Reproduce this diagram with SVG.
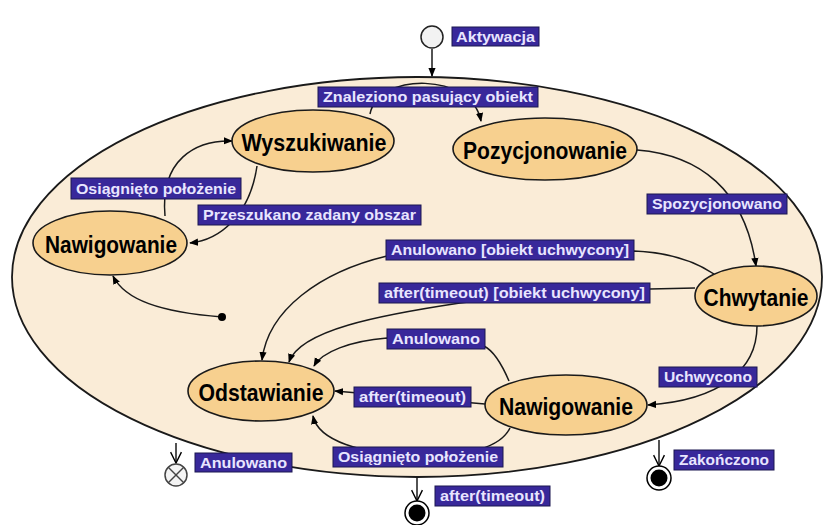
<svg xmlns="http://www.w3.org/2000/svg" width="824" height="525" viewBox="0 0 824 525">
<defs>
<style>
.lbl rect{fill:#38289a;stroke:#1b1650;stroke-width:1}
.lbl text{fill:#e8e5ff;font-family:"Liberation Sans",Arial,sans-serif;font-weight:bold;font-size:15px;text-anchor:middle}
.node ellipse{fill:#f7d08f;stroke:#1a1a1a;stroke-width:1.6}
.node text{fill:#000;font-family:"Liberation Sans",Arial,sans-serif;font-weight:bold;font-size:24px;text-anchor:middle}
.cn path,.cn line{fill:none;stroke:#1a1a1a;stroke-width:1.5}
</style>
<marker id="fa" viewBox="0 0 10 10" refX="9" refY="5" markerWidth="9" markerHeight="9" orient="auto" markerUnits="userSpaceOnUse"><path d="M0,1 L10,5 L0,9 z" fill="#000"/></marker>
<marker id="va" viewBox="0 0 12 12" refX="11" refY="6" markerWidth="13" markerHeight="13" orient="auto" markerUnits="userSpaceOnUse"><path d="M1,1 L11,6 L1,11" fill="none" stroke="#000" stroke-width="1.3"/></marker>
</defs>
<rect width="824" height="525" fill="#ffffff"/>
<g id="composite">
<ellipse cx="417" cy="277" rx="405" ry="200" fill="#faecd7" stroke="#1a1a1a" stroke-width="1.8"/>
</g>
<g id="connectors" class="cn">
<line x1="432" y1="49" x2="432" y2="76" marker-end="url(#fa)"/>
<path d="M370 114 C378 72 472 72 481 121" marker-end="url(#fa)"/>
<path d="M257 166 C250 215 220 240 190 243" marker-end="url(#fa)"/>
<path d="M165 216 C160 160 195 140 232 141" marker-end="url(#fa)"/>
<path d="M637 150 C700 155 745 190 756 266" marker-end="url(#fa)"/>
<path d="M714 274 C690 258 660 252 634 251 L387 256 C320 272 268 310 262 360" marker-end="url(#fa)"/>
<path d="M695 288 L650 289 C560 292 500 298 460 303 C380 315 300 330 289 362" marker-end="url(#fa)"/>
<path d="M509 381 C500 360 492 350 484 346 L387 338 C350 341 322 352 314 366" marker-end="url(#fa)"/>
<line x1="485" y1="404" x2="335" y2="391" marker-end="url(#fa)"/>
<path d="M510 428 C500 448 470 455 420 455 C360 455 318 440 313 416" marker-end="url(#fa)"/>
<path d="M757 326 C757 370 720 400 648 405" marker-end="url(#fa)"/>
<path d="M222 317 C160 312 125 300 113 276" marker-end="url(#fa)"/>
<circle cx="222" cy="317" r="4" fill="#000" stroke="none"/>
<line x1="176" y1="443" x2="176" y2="463" marker-end="url(#va)"/>
<line x1="417" y1="477" x2="417" y2="501" marker-end="url(#va)"/>
<line x1="659" y1="440" x2="659" y2="466" marker-end="url(#va)"/>
</g>
<g id="initial"><circle cx="432" cy="37" r="11" fill="#f2f2f2" stroke="#222" stroke-width="1.5"/></g>
<g id="n_wyszukiwanie" class="node"><ellipse cx="313" cy="141" rx="81" ry="31"/><text x="314" y="151" textLength="145" lengthAdjust="spacingAndGlyphs">Wyszukiwanie</text></g>
<g id="n_pozycjonowanie" class="node"><ellipse cx="545" cy="149" rx="92" ry="31"/><text x="545" y="159" textLength="164" lengthAdjust="spacingAndGlyphs">Pozycjonowanie</text></g>
<g id="n_nawigowanie1" class="node"><ellipse cx="110" cy="243" rx="77" ry="32"/><text x="111" y="253" textLength="132" lengthAdjust="spacingAndGlyphs">Nawigowanie</text></g>
<g id="n_chwytanie" class="node"><ellipse cx="756" cy="296" rx="61" ry="30"/><text x="756" y="306" textLength="105" lengthAdjust="spacingAndGlyphs">Chwytanie</text></g>
<g id="n_odstawianie" class="node"><ellipse cx="261" cy="391" rx="73" ry="30"/><text x="261" y="401" textLength="125" lengthAdjust="spacingAndGlyphs">Odstawianie</text></g>
<g id="n_nawigowanie2" class="node"><ellipse cx="566" cy="405" rx="81" ry="30"/><text x="566" y="415" textLength="134" lengthAdjust="spacingAndGlyphs">Nawigowanie</text></g>
<g id="f_anulowano"><circle cx="176" cy="475" r="11" fill="#f4f4f4" stroke="#444" stroke-width="1.5"/><line x1="168" y1="467" x2="184" y2="483" stroke="#444" stroke-width="1.5"/><line x1="184" y1="467" x2="168" y2="483" stroke="#444" stroke-width="1.5"/></g>
<g id="f_timeout"><circle cx="417" cy="513" r="12" fill="#fff" stroke="#000" stroke-width="1.5"/><circle cx="417" cy="513" r="8.5" fill="#000"/></g>
<g id="f_zakonczono"><circle cx="659" cy="478" r="12" fill="#fff" stroke="#000" stroke-width="1.5"/><circle cx="659" cy="478" r="8.5" fill="#000"/></g>
<g id="labels">
<g class="lbl"><rect x="452" y="27" width="87" height="19"/><text x="495.5" y="42" textLength="79" lengthAdjust="spacingAndGlyphs">Aktywacja</text></g>
<g class="lbl"><rect x="318" y="87" width="220" height="20"/><text x="428" y="102" textLength="210" lengthAdjust="spacingAndGlyphs">Znaleziono pasujący obiekt</text></g>
<g class="lbl"><rect x="71" y="178" width="170" height="21"/><text x="156" y="194" textLength="160" lengthAdjust="spacingAndGlyphs">Osiągnięto położenie</text></g>
<g class="lbl"><rect x="198" y="205" width="223" height="20"/><text x="309.5" y="220" textLength="213" lengthAdjust="spacingAndGlyphs">Przeszukano zadany obszar</text></g>
<g class="lbl"><rect x="647" y="194" width="140" height="20"/><text x="717" y="209" textLength="130" lengthAdjust="spacingAndGlyphs">Spozycjonowano</text></g>
<g class="lbl"><rect x="386" y="240" width="248" height="20"/><text x="510" y="255" textLength="238" lengthAdjust="spacingAndGlyphs">Anulowano [obiekt uchwycony]</text></g>
<g class="lbl"><rect x="379" y="283" width="271" height="20"/><text x="514.5" y="298" textLength="261" lengthAdjust="spacingAndGlyphs">after(timeout) [obiekt uchwycony]</text></g>
<g class="lbl"><rect x="387" y="329" width="98" height="20"/><text x="436" y="344" textLength="88" lengthAdjust="spacingAndGlyphs">Anulowano</text></g>
<g class="lbl"><rect x="354" y="387" width="117" height="20"/><text x="412.5" y="402" textLength="107" lengthAdjust="spacingAndGlyphs">after(timeout)</text></g>
<g class="lbl"><rect x="659" y="367" width="98" height="20"/><text x="708" y="382" textLength="88" lengthAdjust="spacingAndGlyphs">Uchwycono</text></g>
<g class="lbl"><rect x="333" y="447" width="170" height="20"/><text x="418" y="462" textLength="160" lengthAdjust="spacingAndGlyphs">Osiągnięto położenie</text></g>
<g class="lbl"><rect x="195" y="453" width="97" height="19"/><text x="243.5" y="468" textLength="87" lengthAdjust="spacingAndGlyphs">Anulowano</text></g>
<g class="lbl"><rect x="435" y="486" width="115" height="20"/><text x="492.5" y="501" textLength="105" lengthAdjust="spacingAndGlyphs">after(timeout)</text></g>
<g class="lbl"><rect x="674" y="450" width="100" height="20"/><text x="724" y="465" textLength="90" lengthAdjust="spacingAndGlyphs">Zakończono</text></g>
</g>
</svg>
